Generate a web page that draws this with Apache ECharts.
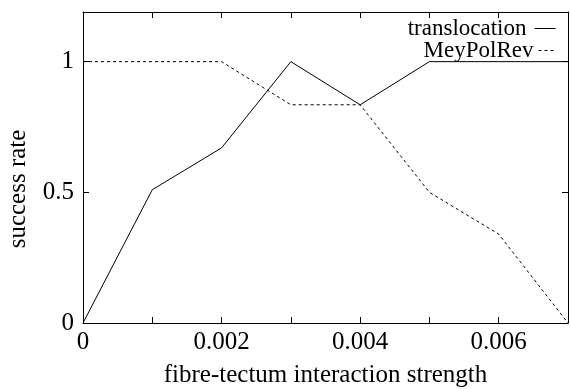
<!DOCTYPE html>
<html>
<head>
<meta charset="utf-8">
<title>success rate</title>
<script src="https://cdn.jsdelivr.net/npm/echarts@6/dist/echarts.min.js"></script>
<style>
  html, body { margin: 0; padding: 0; background: #fff; }
  #chart { width: 570px; height: 389px; }
</style>
</head>
<body>
<div id="chart"></div>
<script>
// interaction strength values on the x axis
const strengths = [0, 0.001, 0.002, 0.003, 0.004, 0.005, 0.006, 0.007];
// success rate per strength
const translocation = [0, 0.51, 0.67, 1, 0.835, 1, 1, 1];
const meyPolRev = [1, 1, 1, 0.835, 0.835, 0.5, 0.34, 0];
const yTickLabels = [0, 0.5, 1];

const serif = '"Liberation Serif", "DejaVu Serif", serif';
const ink = '#000';

function pairs(ys) {
  return strengths.map((x, i) => [x, ys[i]]);
}

function xLabel(v) {
  const k = Math.round(v * 1000);
  if (k % 2 !== 0) return '';
  return k === 0 ? '0' : String(+(k / 1000).toFixed(3));
}

function yLabel(v) {
  const hit = yTickLabels.find(t => Math.abs(t - v) < 1e-9);
  return hit === undefined ? '' : String(hit);
}

const chart = echarts.init(document.getElementById('chart'));

// fresh objects per axis (sharing one object between axes loses the ticks)
function axisLine() {
  return { show: true, onZero: false, lineStyle: { color: ink, width: 1 } };
}
function axisTick() {
  return { show: true, inside: true, length: 6, lineStyle: { color: ink, width: 1 } };
}

// legend entries: text on the left, line sample on the right, no marker
const legendBase = {
  align: 'right',
  padding: 0,
  itemHeight: 10, itemGap: 0,
  itemStyle: { opacity: 0 },
  lineStyle: { width: 1 },
  textStyle: { fontFamily: serif, fontSize: 23, color: ink }
};

chart.setOption({
  animation: false,
  backgroundColor: '#fff',
  grid: { left: 83, right: 2, top: 12, bottom: 66, outerBoundsMode: 'none' },
  legend: [
    Object.assign({}, legendBase, {
      data: ['translocation'], right: 14, top: 17, itemWidth: 21,
      textStyle: Object.assign({}, legendBase.textStyle, { padding: [0, 3, 0, 0] })
    }),
    Object.assign({}, legendBase, { data: ['MeyPolRev'], right: 13, top: 39, itemWidth: 18 })
  ],
  xAxis: [
    {
      type: 'value', position: 'bottom',
      min: 0, max: 0.007, interval: 0.001,
      name: 'fibre-tectum interaction strength',
      nameLocation: 'middle', nameGap: 40,
      nameTextStyle: { fontFamily: serif, fontSize: 25, color: ink },
      axisLine: axisLine(), axisTick: axisTick(),
      splitLine: { show: false },
      axisLabel: { fontFamily: serif, fontSize: 25, color: ink, margin: 7, formatter: xLabel }
    },
    {
      type: 'value', position: 'top',
      min: 0, max: 0.007, interval: 0.001,
      axisLine: axisLine(), axisTick: axisTick(),
      splitLine: { show: false },
      axisLabel: { show: false }
    }
  ],
  yAxis: [
    {
      type: 'value', position: 'left',
      min: 0, max: 1.19, interval: 0.5,
      axisLine: axisLine(), axisTick: axisTick(),
      splitLine: { show: false },
      axisLabel: { fontFamily: serif, fontSize: 25, color: ink, margin: 9, formatter: yLabel }
    },
    {
      type: 'value', position: 'right',
      min: 0, max: 1.19, interval: 0.5,
      axisLine: axisLine(), axisTick: axisTick(),
      splitLine: { show: false },
      axisLabel: { show: false }
    }
  ],
  graphic: [
    {
      type: 'text',
      x: 18, y: 189,
      rotation: Math.PI / 2,
      style: {
        text: 'success rate',
        fontFamily: serif, fontSize: 25, fill: ink,
        align: 'center', verticalAlign: 'middle'
      }
    }
  ],
  series: [
    {
      name: 'translocation',
      type: 'line',
      data: pairs(translocation),
      symbol: 'none',
      lineStyle: { color: ink, width: 1 },
      itemStyle: { color: ink }
    },
    {
      name: 'MeyPolRev',
      type: 'line',
      data: pairs(meyPolRev),
      symbol: 'none',
      lineStyle: { color: ink, width: 1, type: [3, 3] },
      itemStyle: { color: ink }
    }
  ]
});
</script>
</body>
</html>
